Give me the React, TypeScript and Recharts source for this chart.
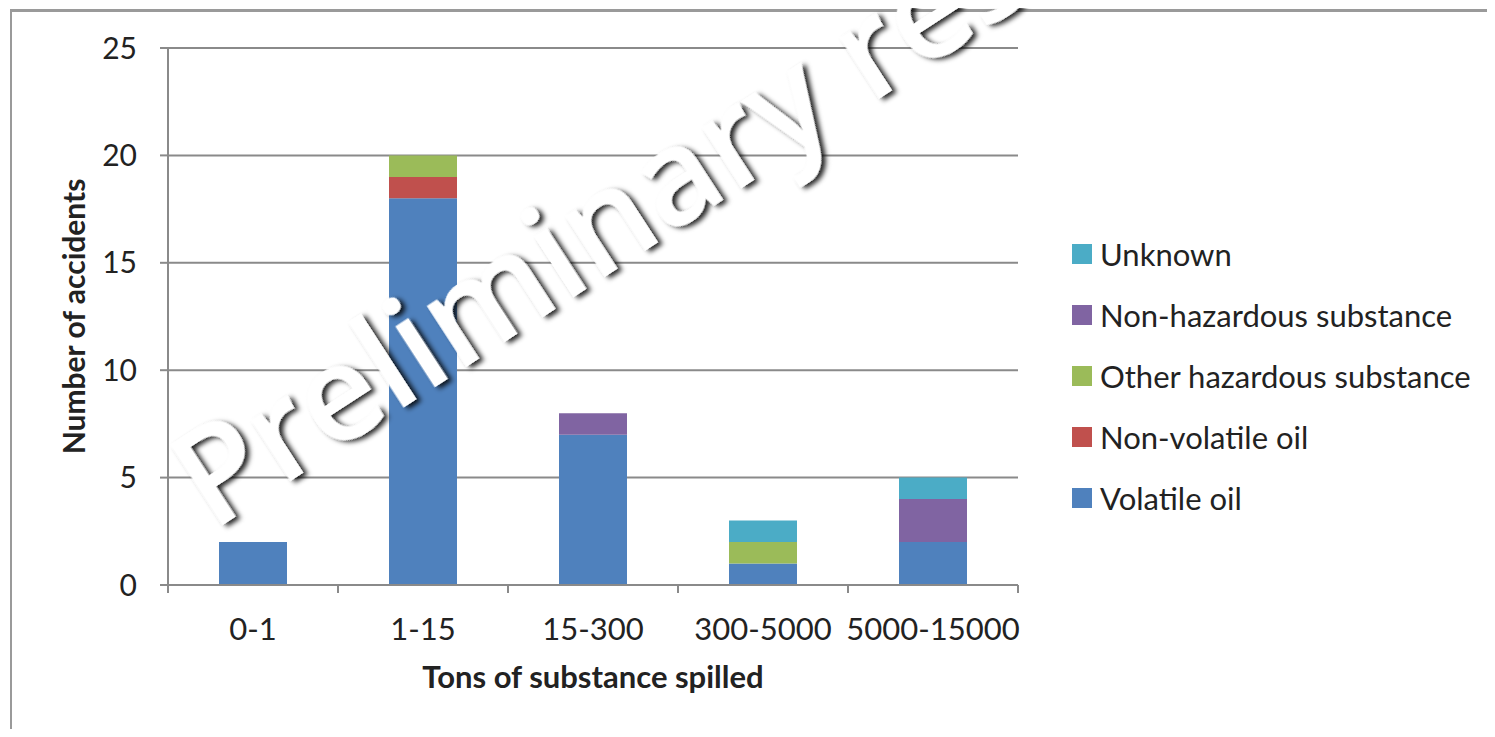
import React from 'react';
import { BarChart, Bar, XAxis, YAxis, CartesianGrid, Legend } from 'recharts';

// spill size classes (tons) and accident counts per substance type
const categories = ['0-1', '1-15', '15-300', '300-5000', '5000-15000'];
const volatileOil = [2, 18, 7, 1, 2];
const nonVolatileOil = [0, 1, 0, 0, 0];
const otherHazardous = [0, 1, 0, 1, 0];
const nonHazardous = [0, 0, 1, 0, 2];
const unknown = [0, 0, 0, 1, 1];
const yTicks = [0, 5, 10, 15, 20, 25];

const series = [
    { key: 'volatile', name: 'Volatile oil', color: '#4F81BD', values: volatileOil },
    { key: 'nonVolatile', name: 'Non-volatile oil', color: '#C0504D', values: nonVolatileOil },
    { key: 'otherHaz', name: 'Other hazardous substance', color: '#9BBB59', values: otherHazardous },
    { key: 'nonHaz', name: 'Non-hazardous substance', color: '#8064A2', values: nonHazardous },
    { key: 'unknown', name: 'Unknown', color: '#4BACC6', values: unknown },
];

const data = categories.map((cat, i) => {
    const row: any = { cat };
    series.forEach((s) => { row[s.key] = s.values[i]; });
    return row;
});

const CHART_W = 1487;
const CHART_H = 729;
const MARGIN = { top: 40, right: 477, bottom: 0, left: 0 };
const Y_AXIS_W = 160;
const X_AXIS_H = 152;
const PLOT_W = CHART_W - MARGIN.left - MARGIN.right - Y_AXIS_W;
const HALF_BAND = PLOT_W / categories.length / 2;

const FONT = "Lato, 'Open Sans', sans-serif";
const TEXT = '#222';
const GRID = '#8a8a8a';

// Excel-style ticks: marks sit on the category boundaries, label in the middle
const XTick = ({ x, y, payload, index }: any) => (
    <g>
        <line x1={x - HALF_BAND} x2={x - HALF_BAND} y1={y - 8} y2={y} stroke={GRID} strokeWidth={2} />
        {index === categories.length - 1 && (
            <line x1={x + HALF_BAND} x2={x + HALF_BAND} y1={y - 8} y2={y} stroke={GRID} strokeWidth={2} />
        )}
        <text x={x} y={y + 47} textAnchor="middle" fontFamily={FONT} fontSize={31} fill={TEXT}>
            {payload.value}
        </text>
    </g>
);

const XTitle = ({ viewBox }: any) => (
    <text x={viewBox.x + viewBox.width / 2} y={680} textAnchor="middle" fontFamily={FONT} fontSize={31} fontWeight={700} fill={TEXT}>
        Tons of substance spilled
    </text>
);

const YTitle = ({ viewBox }: any) => {
    const cy = viewBox.y + viewBox.height / 2;
    return (
        <text x={77} y={cy} transform={`rotate(-90 77 ${cy})`} textAnchor="middle" fontFamily={FONT} fontSize={30} fontWeight={700} fill={TEXT}>
            Number of accidents
        </text>
    );
};

const LegendList = () => (
    <div style={{ fontFamily: FONT, fontSize: 31, color: TEXT }}>
        {[...series].reverse().map((s) => (
            <div key={s.key} style={{ display: 'flex', alignItems: 'center', height: 61, whiteSpace: 'nowrap' }}>
                <span style={{ width: 20, height: 20, background: s.color, marginRight: 8, display: 'inline-block' }} />
                <span>{s.name}</span>
            </div>
        ))}
    </div>
);

export default function App() {
    return (
        <div style={{ position: 'relative', width: CHART_W, height: CHART_H, marginRight: -8, marginBottom: -8, background: '#fff' }}>
            {/* outer frame */}
            <div style={{ position: 'absolute', left: 2, top: 1, width: CHART_W - 2, height: 724, borderLeft: '2px solid #9a9a9a', borderTop: '3px solid #9a9a9a' }} />
            <BarChart width={CHART_W} height={CHART_H} data={data} margin={MARGIN} barCategoryGap="30%">
                <CartesianGrid vertical={false} stroke={GRID} strokeWidth={2} />
                <XAxis
                    dataKey="cat"
                    height={X_AXIS_H}
                    stroke={GRID}
                    strokeWidth={2}
                    tickLine={false}
                    tickSize={8}
                    tickMargin={0}
                    tick={<XTick />}
                    interval={0}
                    label={<XTitle />}
                />
                <YAxis
                    width={Y_AXIS_W}
                    domain={[0, 25]}
                    ticks={yTicks}
                    stroke={GRID}
                    strokeWidth={2}
                    tickSize={8}
                    tickMargin={23}
                    tick={{ fontFamily: FONT, fontSize: 30, fill: TEXT }}
                    label={<YTitle />}
                />
                <Legend
                    layout="vertical"
                    align="center"
                    verticalAlign="middle"
                    content={<LegendList />}
                    wrapperStyle={{ left: 1064, top: 215, width: 420 }}
                />
                {series.map((s) => (
                    <Bar key={s.key} dataKey={s.key} name={s.name} stackId="spill" fill={s.color} isAnimationActive={false} />
                ))}
            </BarChart>
            {/* watermark stamped over the whole figure */}
            <svg width={1495} height={737} style={{ position: 'absolute', left: -8, top: -8, pointerEvents: 'none' }}>
                <defs>
                    <filter id="wm-shadow" x="-10%" y="-10%" width="120%" height="130%">
                        <feDropShadow dx={3} dy={4} stdDeviation={2.5} floodColor="#000" floodOpacity={0.85} />
                    </filter>
                </defs>
                <text
                    x={212}
                    y={532}
                    transform="rotate(-33 212 532)"
                    fontFamily="'Open Sans', sans-serif"
                    fontSize={134}
                    fontWeight={600}
                    fill="#fff"
                    filter="url(#wm-shadow)"
                >
                    Preliminary results
                </text>
            </svg>
        </div>
    );
}
